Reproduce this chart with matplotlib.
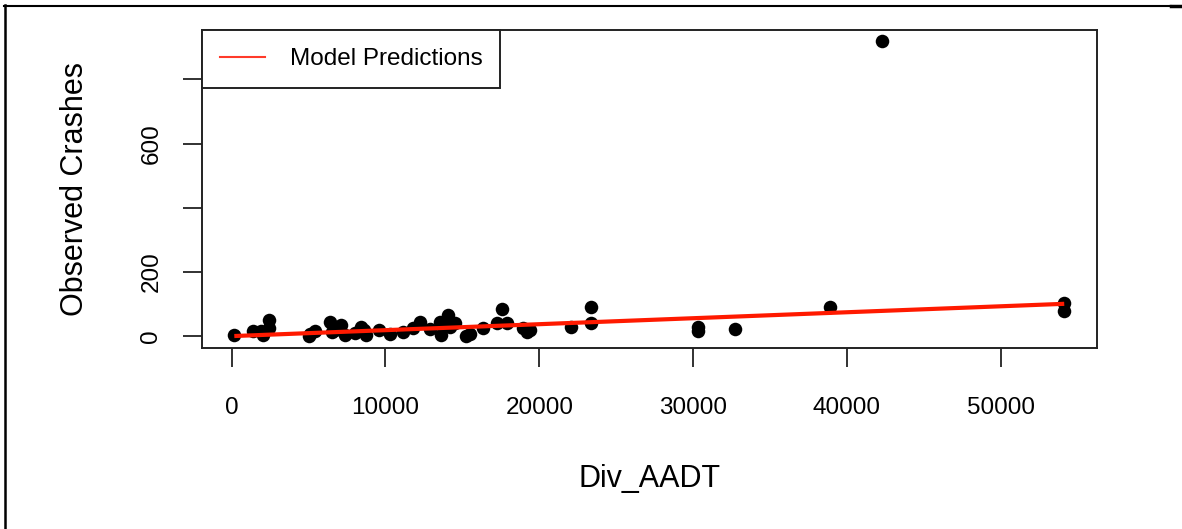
import numpy as np
import matplotlib
matplotlib.use("Agg")
import matplotlib.pyplot as plt
from matplotlib.lines import Line2D

plt.rcParams['font.family'] = ['Liberation Sans', 'DejaVu Sans']

# Observed segments: divided AADT vs crash counts
div_aadt = [170, 1405, 1930, 2055, 2445, 2445, 5090, 5000, 5400, 6380,
            6720, 7130, 7350, 8430, 8760, 8000, 10280, 11130, 11780, 12240,
            13540, 13640, 14070, 14190, 15260, 15490, 16360, 17560, 17230, 17880,
            18960, 19170, 19380, 22090, 23390, 23390, 30330, 30330, 32710, 38930,
            42250, 54130, 54130, 6500, 9600, 12900, 14500, 8600]
crashes = [3, 16, 16, 2, 50, 25, 8, 0, 16, 45,
           19, 34, 3, 29, 3, 9, 8, 13, 25, 45,
           45, 3, 65, 29, 0, 8, 24, 84, 40, 40,
           24, 13, 19, 29, 91, 40, 29, 17, 21, 91,
           919, 102, 78, 12, 20, 22, 40, 18]

# fitted linear model
intercept = 0.0
slope = 0.00186

fig = plt.figure(figsize=(11.82, 5.29), dpi=100)
ax = fig.add_axes([202 / 1182, 1 - 348 / 529, 895 / 1182, 318 / 529])

ax.scatter(div_aadt, crashes, s=95, color='black', zorder=3, linewidths=0)

x_sorted = np.sort(np.array(div_aadt, dtype=float))
pred = intercept + slope * x_sorted
ax.plot(x_sorted, pred, color='#ff1a00', lw=3, zorder=4, solid_capstyle='butt')

ax.set_xlim(-1930, 56260)
ax.set_ylim(-37, 954)

ax.set_xticks([0, 10000, 20000, 30000, 40000, 50000])
ax.set_xticklabels(['0', '10000', '20000', '30000', '40000', '50000'])
ax.set_yticks([0, 200, 400, 600, 800])
ax.set_yticklabels(['0', '200', '', '600', ''], rotation=90, va='center')

ax.tick_params(axis='both', direction='out', length=13.5, width=1.3,
               color='#222222', labelsize=17.5)
ax.tick_params(axis='x', pad=22)
ax.tick_params(axis='y', pad=15)

for sp in ax.spines.values():
    sp.set_linewidth(1.4)
    sp.set_color('#222222')

ax.set_xlabel('Div_AADT', fontsize=22)
ax.set_ylabel('Observed Crashes', fontsize=22)
ax.xaxis.set_label_coords(0.5, -(479 - 348) / 318)
ax.xaxis.label.set_va('center')
ax.yaxis.set_label_coords(-(202 - 75) / 895, 0.5)
ax.yaxis.label.set_va('center')

handle = Line2D([], [], color='#ff3a2a', lw=1.5)
leg = ax.legend([handle], ['Model Predictions'], loc='upper left',
                borderaxespad=0, fontsize=17.5, fancybox=False,
                handlelength=1.85, handletextpad=1.0, borderpad=0.75)
leg.get_frame().set_edgecolor('#222222')
leg.get_frame().set_linewidth(1.4)
leg.get_frame().set_alpha(1)

# page frame around the figure
W, H = 1182, 529
fig.add_artist(Line2D([4 / W, 1171 / W], [1 - 5.5 / H, 1 - 5.5 / H],
                      transform=fig.transFigure, color='black', lw=1.5))
fig.add_artist(Line2D([4.5 / W, 4.5 / W], [1 - 5 / H, 0],
                      transform=fig.transFigure, color='black', lw=1.8))
fig.add_artist(Line2D([1171 / W, 1182 / W], [1 - 6 / H, 1 - 6 / H],
                      transform=fig.transFigure, color='black', lw=2.5))

fig.savefig('out.png', dpi=100)
